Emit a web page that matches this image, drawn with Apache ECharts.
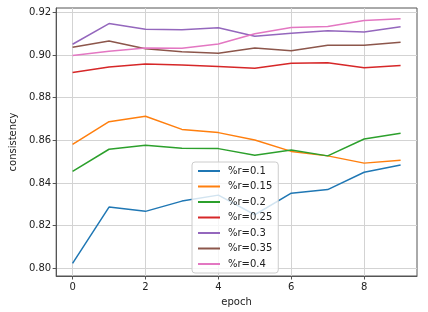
<!DOCTYPE html>
<html><head><meta charset="utf-8">
<script src="https://cdn.jsdelivr.net/npm/echarts@6/dist/echarts.min.js"></script>
<style>html,body{margin:0;padding:0;background:#fff}#c{width:428px;height:312px}</style>
</head><body><div id="c"></div>
<script>
const epochs = [0,1,2,3,4,5,6,7,8,9];
const seriesNames = ['%r=0.1','%r=0.15','%r=0.2','%r=0.25','%r=0.3','%r=0.35','%r=0.4'];
const r010 = [0.8023,0.8287,0.8267,0.8315,0.8343,0.8251,0.8352,0.8369,0.8450,0.8484];
const r015 = [0.8581,0.8687,0.8713,0.8651,0.8636,0.8601,0.8548,0.8527,0.8493,0.8506];
const r020 = [0.8454,0.8558,0.8577,0.8563,0.8561,0.8530,0.8555,0.8527,0.8606,0.8633];
const r025 = [0.8918,0.8944,0.8958,0.8953,0.8946,0.8938,0.8961,0.8963,0.8940,0.8950];
const r030 = [0.9050,0.9147,0.9120,0.9118,0.9127,0.9088,0.9102,0.9113,0.9107,0.9132];
const r035 = [0.9036,0.9065,0.9029,0.9015,0.9008,0.9033,0.9020,0.9045,0.9045,0.9060];
const r040 = [0.8997,0.9017,0.9033,0.9031,0.9051,0.9099,0.9129,0.9133,0.9161,0.9170];
const xTicks = [0,2,4,6,8];
const yTicks = [0.80,0.82,0.84,0.86,0.88,0.90,0.92];
const colors = ['#1f77b4','#ff7f0e','#2ca02c','#d62728','#9467bd','#8c564b','#e377c2'];
const allData = [r010,r015,r020,r025,r030,r035,r040];

const font = 'DejaVu Sans';
const chart = echarts.init(document.getElementById('c'), null, {renderer:'canvas'});
chart.setOption({
  animation:false,
  backgroundColor:'#fff',
  grid:{left:54,right:11,top:8,bottom:33,show:true,borderColor:'#555',borderWidth:1},
  xAxis:{type:'value',min:-0.45,max:9.45,
    name:'epoch',nameLocation:'middle',nameGap:21,
    nameTextStyle:{fontFamily:font,fontSize:10,color:'#222'},
    axisLine:{show:true,onZero:false,lineStyle:{color:'#555'}},
    axisTick:{show:true,length:3.5,lineStyle:{color:'#555'},customValues:xTicks},
    axisLabel:{fontFamily:font,fontSize:10,color:'#222',margin:6,customValues:xTicks,formatter:v=>String(v)},
    splitLine:{show:true,lineStyle:{color:'#d3d3d3',width:1}}},
  yAxis:{type:'value',min:0.7964,max:0.9220,
    name:'consistency',nameLocation:'middle',nameGap:37,
    nameTextStyle:{fontFamily:font,fontSize:10,color:'#222'},
    axisLine:{show:true,onZero:false,lineStyle:{color:'#555'}},
    axisTick:{show:true,length:3.5,lineStyle:{color:'#555'},customValues:yTicks},
    axisLabel:{fontFamily:font,fontSize:10,color:'#222',margin:5,customValues:yTicks,formatter:v=>v.toFixed(2)},
    splitLine:{show:true,lineStyle:{color:'#d3d3d3',width:1}}},
  legend:{orient:'vertical',left:192,top:162,
    itemWidth:22,itemHeight:10,itemGap:5.5,
    padding:[4,6,4,6],
    backgroundColor:'rgba(255,255,255,0.8)',borderColor:'#ccc',borderWidth:1,borderRadius:3,
    textStyle:{fontFamily:font,fontSize:10,color:'#222',padding:[0,0,0,3]},
    data:seriesNames.map((n,i)=>({name:n,icon:'path://M0,0L22,0L22,2L0,2Z',itemStyle:{color:colors[i]}}))},
  series:seriesNames.map((n,i)=>({name:n,type:'line',showSymbol:false,symbol:'none',
    color:colors[i],itemStyle:{color:colors[i]},lineStyle:{width:1.5,color:colors[i]},
    data:epochs.map((e,j)=>[e,allData[i][j]])}))
});
</script></body></html>
